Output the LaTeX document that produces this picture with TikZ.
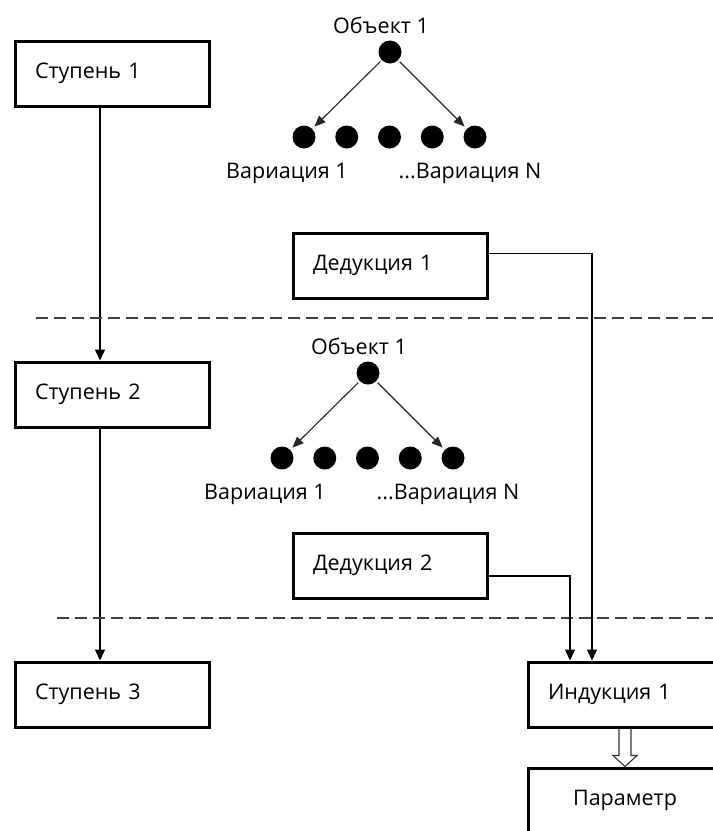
\documentclass[tikz,border=0pt]{standalone}
\usepackage{fontspec}
\setmainfont{Open Sans}
\usetikzlibrary{arrows.meta}

\tikzset{
  stage/.style={draw, line width=3pt, minimum width=194pt, minimum height=65pt,
    inner xsep=20pt, text width=154pt, align=left},
  dot/.style={circle, fill=black, minimum size=23pt, inner sep=0pt},
  link/.style={line width=1.3pt, -{Triangle[length=11pt,width=10pt]}},
  branch/.style={line width=1.1pt, black!85, shorten >=3pt, shorten <=2pt,
    -{Triangle[length=11pt,width=9pt]}},
  border/.style={line width=1.4pt, black!75, dash pattern=on 12pt off 6pt},
  hollow/.style={line width=1.1pt, black!80}
}

\begin{document}
\begin{tikzpicture}[x=1pt, y=-1pt, font=\fontsize{21.5}{25}\selectfont]
    \useasboundingbox (0,0) rectangle (713,831);
    \clip (0,0) rectangle (713,831);
    % stages
    \path (112,73.5) node [stage] (st1) {Ступень 1};
    \path (112,394.5) node [stage] (st2) {Ступень 2};
    \path (112,694.5) node [stage] (st3) {Ступень 3};
    \draw [link] ([xshift=-12pt]st1.south) -- ([xshift=-12pt]st2.north);
    \draw [link] ([xshift=-12pt]st2.south) -- ([xshift=-12pt]st3.north);
    % level borders
    \draw [border] (36,318) -- (713,318);
    \draw [border] (57,618) -- (713,618);
    % objects and their variations
    \foreach \t/\dx/\dy in {1/0/0,2/-22/321}{
      \begin{scope}[shift={(\dx,\dy)}]
        \path (381,25) node (obj\t) {Объект 1};
        \path (390,52) node [dot] (top\t) {};
        \foreach \i in {1,...,5}
          \path ({304+42.75*(\i-1)},137) node [dot] (var\t\i) {};
        \path (287,173) node (vl\t) {Вариация 1};
        \path (470,173) node (vr\t) {...Вариация N};
        \draw [branch] (top\t) -- (var\t1);
        \draw [branch] (top\t) -- (var\t5);
      \end{scope}
    }
    % deductions and induction
    \path (390,265.5) node [stage] (ded1) {Дедукция 1};
    \path (390,565.5) node [stage] (ded2) {Дедукция 2};
    \path (625,694.5) node [stage] (ind) {Индукция 1};
    \path (625,800.5) node [stage, align=center] (par) {Параметр};
    \draw [link] ([yshift=12pt]ded1.east) -| ([xshift=-33pt]ind.north);
    \draw [link] ([yshift=-10.5pt]ded2.east) -| ([xshift=-55pt]ind.north);
    \draw [hollow] ([xshift=-6pt]ind.south) -- ([shift={(-6pt,11pt)}]par.north)
      -- ([shift={(-12pt,11pt)}]par.north) -- (par.north)
      -- ([shift={(12pt,11pt)}]par.north) -- ([shift={(6pt,11pt)}]par.north)
      -- ([xshift=6pt]ind.south);
\end{tikzpicture}
\end{document}
